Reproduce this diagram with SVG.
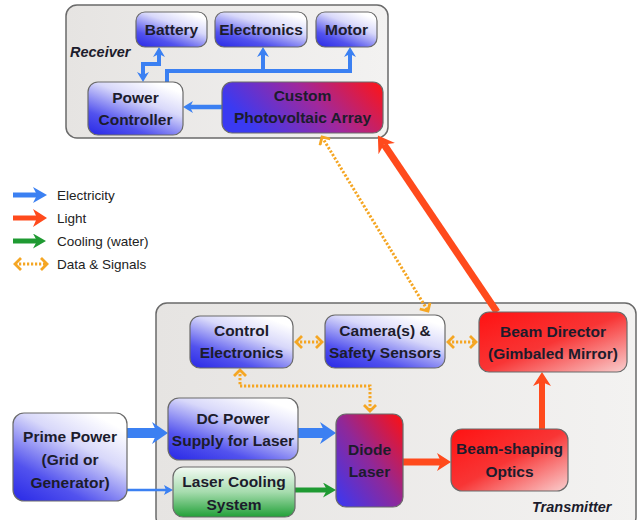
<svg xmlns="http://www.w3.org/2000/svg" width="639" height="520" viewBox="0 0 639 520">
<defs>
<style>
.t{font-family:"Liberation Sans",Arial,sans-serif;font-weight:bold;font-size:15.5px;fill:#1c1c2c;text-anchor:middle}
.lg{font-family:"Liberation Sans",Arial,sans-serif;font-size:13.5px;fill:#222}
.pl{font-family:"Liberation Sans",Arial,sans-serif;font-weight:bold;font-style:italic;font-size:14.5px;fill:#1c1c2c}
.box{stroke:#6a6a6a;stroke-width:1.2}
.panel{stroke:#6a6a6a;stroke-width:1.5}
.el{fill:none;stroke:#3b80f2;stroke-linejoin:miter}
.li{fill:none;stroke:#ff4a1c}
.co{fill:none;stroke:#1f9a32}
.da{fill:none;stroke:#f5a623;stroke-width:3;stroke-dasharray:2.2 1.8}
</style>
<linearGradient id="gBlue" x1="0" y1="1" x2="0.7" y2="0">
<stop offset="0" stop-color="#2828e6"/><stop offset="0.3" stop-color="#5252ee"/><stop offset="0.7" stop-color="#d8d8fa"/><stop offset="1" stop-color="#ffffff"/>
</linearGradient>
<linearGradient id="gRed" x1="0" y1="0" x2="1" y2="1">
<stop offset="0" stop-color="#ff1212"/><stop offset="0.5" stop-color="#f83535"/><stop offset="1" stop-color="#f9cfcf"/>
</linearGradient>
<linearGradient id="gGreen" x1="0" y1="0" x2="0" y2="1">
<stop offset="0" stop-color="#f4faf4"/><stop offset="0.5" stop-color="#a6dcae"/><stop offset="1" stop-color="#22a038"/>
</linearGradient>
<linearGradient id="gDiode" x1="0" y1="1" x2="1" y2="0">
<stop offset="0" stop-color="#3838f5"/><stop offset="0.5" stop-color="#902898"/><stop offset="1" stop-color="#ff1010"/>
</linearGradient>
<linearGradient id="gPV" x1="0" y1="0.3" x2="1" y2="0">
<stop offset="0" stop-color="#3a3af2"/><stop offset="0.5" stop-color="#a0289c"/><stop offset="1" stop-color="#ff1414"/>
</linearGradient>
<linearGradient id="gPanel" x1="0" y1="0" x2="1" y2="0">
<stop offset="0" stop-color="#e6e4e2"/><stop offset="1" stop-color="#f3f2f1"/>
</linearGradient>
<marker id="mBlueL" markerUnits="userSpaceOnUse" viewBox="0 0 16 22" markerWidth="16" markerHeight="22" refX="5" refY="11" orient="auto"><path d="M0 0 L16 11 L0 22 L5 11 Z" fill="#3b80f2"/></marker>
<marker id="mBlue" markerUnits="userSpaceOnUse" viewBox="0 0 10 12" markerWidth="10" markerHeight="12" refX="3" refY="6" orient="auto-start-reverse"><path d="M0 0 L10 6 L0 12 L3 6 Z" fill="#3b80f2"/></marker>
<marker id="mBlueS" markerUnits="userSpaceOnUse" viewBox="0 0 9 10" markerWidth="9" markerHeight="10" refX="2" refY="5" orient="auto"><path d="M0 0 L9 5 L0 10 L2 5 Z" fill="#3b80f2"/></marker>
<marker id="mBlueM" markerUnits="userSpaceOnUse" viewBox="0 0 14 16" markerWidth="14" markerHeight="16" refX="4" refY="8" orient="auto"><path d="M0 0 L14 8 L0 16 L4 8 Z" fill="#3b80f2"/></marker>
<marker id="mRed" markerUnits="userSpaceOnUse" viewBox="0 0 14 18" markerWidth="14" markerHeight="18" refX="4" refY="9" orient="auto"><path d="M0 0 L14 9 L0 18 L4 9 Z" fill="#ff4a1c"/></marker>
<marker id="mRedL" markerUnits="userSpaceOnUse" viewBox="0 0 16 20" markerWidth="16" markerHeight="20" refX="5" refY="10" orient="auto"><path d="M0 0 L16 10 L0 20 L5 10 Z" fill="#ff4a1c"/></marker>
<marker id="mGreen" markerUnits="userSpaceOnUse" viewBox="0 0 13 15" markerWidth="13" markerHeight="15" refX="4" refY="7.5" orient="auto"><path d="M0 0 L13 7.5 L0 15 L4 7.5 Z" fill="#1f9a32"/></marker>
<marker id="mData" markerUnits="userSpaceOnUse" viewBox="-1 -1 9 14" markerWidth="9" markerHeight="14" refX="6" refY="6" orient="auto-start-reverse"><path d="M0 0 L6 6 L0 12" fill="none" stroke="#f5a623" stroke-width="2.8"/></marker>
</defs>

<g id="receiver-panel">
<rect class="panel" x="66" y="5" width="322" height="133" rx="11" fill="url(#gPanel)"/>
<text class="pl" x="70" y="57">Receiver</text>
</g>
<g id="transmitter-panel">
<rect class="panel" x="156" y="303" width="480" height="225" rx="11" fill="url(#gPanel)"/>
<text class="pl" x="532" y="512">Transmitter</text>
</g>

<g id="legend">
<path class="el" d="M13 195 H37" stroke-width="5" marker-end="url(#mBlueM)"/>
<text class="lg" x="57" y="200">Electricity</text>
<path class="li" d="M13 218 H37" stroke-width="5" marker-end="url(#mRed)"/>
<text class="lg" x="57" y="223">Light</text>
<path class="co" d="M13 241 H37" stroke-width="5" marker-end="url(#mGreen)"/>
<text class="lg" x="57" y="246">Cooling (water)</text>
<path class="da" d="M15 264 H47" marker-start="url(#mData)" marker-end="url(#mData)"/>
<text class="lg" x="57" y="269">Data &amp; Signals</text>
</g>

<g id="connectors">
<path class="el" d="M222 107 H190" stroke-width="4.5" marker-end="url(#mBlue)"/>
<path class="el" d="M167 82 V71 H350 V54" stroke-width="4" marker-end="url(#mBlue)"/>
<path class="el" d="M263 71 V54" stroke-width="4" marker-end="url(#mBlue)"/>
<path class="el" d="M143 75 V64 H159 V54" stroke-width="4" marker-start="url(#mBlue)" marker-end="url(#mBlue)"/>
<path class="el" d="M127 433 H157" stroke-width="10" marker-end="url(#mBlueL)"/>
<path class="el" d="M298 433 H325" stroke-width="10" marker-end="url(#mBlueL)"/>
<path class="el" d="M127 490 H166" stroke-width="2.5" marker-end="url(#mBlueS)"/>
<path class="co" d="M295 490 H327" stroke-width="5" marker-end="url(#mGreen)"/>
<path class="li" d="M403 462 H441" stroke-width="7" marker-end="url(#mRed)"/>
<path class="li" d="M542 429 V382" stroke-width="6" marker-end="url(#mRed)"/>
<path class="li" d="M497 312 L384 144.5" stroke-width="7" marker-end="url(#mRedL)"/>
<path class="da" d="M322 137 L428 311" marker-start="url(#mData)" marker-end="url(#mData)"/>
<path class="da" d="M296 342 H322" marker-start="url(#mData)" marker-end="url(#mData)"/>
<path class="da" d="M448 342 H476" marker-start="url(#mData)" marker-end="url(#mData)"/>
<path class="da" d="M240 370 V386 H370 V411" marker-start="url(#mData)" marker-end="url(#mData)"/>
</g>

<g id="battery"><rect class="box" x="136" y="12" width="71" height="35" rx="9" fill="url(#gBlue)"/><text class="t" x="171.5" y="35">Battery</text></g>
<g id="electronics"><rect class="box" x="215" y="12" width="92" height="35" rx="9" fill="url(#gBlue)"/><text class="t" x="261" y="35">Electronics</text></g>
<g id="motor"><rect class="box" x="316" y="12" width="61" height="35" rx="9" fill="url(#gBlue)"/><text class="t" x="346.5" y="35">Motor</text></g>
<g id="power-controller"><rect class="box" x="88" y="82" width="95" height="53" rx="10" fill="url(#gBlue)"/><text class="t" x="135.5" y="103">Power</text><text class="t" x="135.5" y="125">Controller</text></g>
<g id="pv-array"><rect class="box" x="222" y="82" width="161" height="51" rx="10" fill="url(#gPV)"/><text class="t" x="302.5" y="101">Custom</text><text class="t" x="302.5" y="123">Photovoltaic Array</text></g>

<g id="control-electronics"><rect class="box" x="190" y="316" width="103" height="52" rx="10" fill="url(#gBlue)"/><text class="t" x="241.5" y="336">Control</text><text class="t" x="241.5" y="358">Electronics</text></g>
<g id="camera"><rect class="box" x="325" y="315" width="120" height="53" rx="10" fill="url(#gBlue)"/><text class="t" x="385" y="336">Camera(s) &amp;</text><text class="t" x="385" y="358">Safety Sensors</text></g>
<g id="beam-director"><rect class="box" x="479" y="312" width="148" height="60" rx="10" fill="url(#gRed)"/><text class="t" x="553" y="337">Beam Director</text><text class="t" x="553" y="359">(Gimbaled Mirror)</text></g>
<g id="prime-power"><rect class="box" x="13" y="413" width="114" height="88" rx="11" fill="url(#gBlue)"/><text class="t" x="70" y="442">Prime Power</text><text class="t" x="70" y="465">(Grid or</text><text class="t" x="70" y="488">Generator)</text></g>
<g id="dc-power"><rect class="box" x="168" y="398" width="130" height="62" rx="11" fill="url(#gBlue)"/><text class="t" x="233" y="424">DC Power</text><text class="t" x="233" y="446">Supply for Laser</text></g>
<g id="laser-cooling"><rect class="box" x="173" y="467" width="122" height="50" rx="10" fill="url(#gGreen)"/><text class="t" x="234" y="487">Laser Cooling</text><text class="t" x="234" y="510">System</text></g>
<g id="diode-laser"><rect class="box" x="336" y="414" width="67" height="93" rx="10" fill="url(#gDiode)"/><text class="t" x="369.5" y="455">Diode</text><text class="t" x="369.5" y="477">Laser</text></g>
<g id="beam-shaping"><rect class="box" x="451" y="429" width="117" height="62" rx="11" fill="url(#gRed)"/><text class="t" x="509.5" y="454">Beam-shaping</text><text class="t" x="509.5" y="477">Optics</text></g>
</svg>
